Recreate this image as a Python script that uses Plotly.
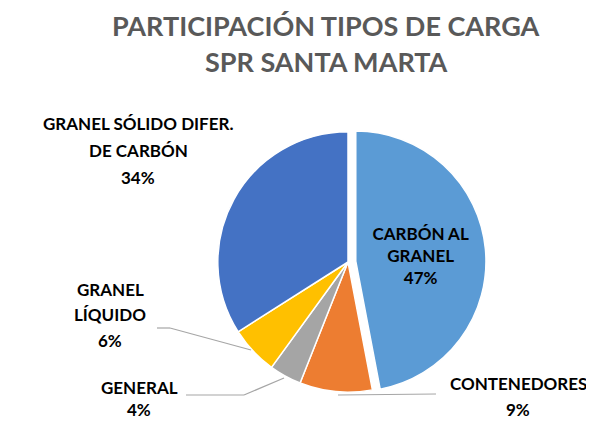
import plotly.graph_objects as go

categories = ["CARBÓN AL GRANEL", "CONTENEDORES", "GENERAL", "GRANEL LÍQUIDO", "GRANEL SÓLIDO DIFER. DE CARBÓN"]
values = [47, 9, 4, 6, 34]
colors = ["#5B9BD5", "#ED7D31", "#A5A5A5", "#FFC000", "#4472C4"]
pulls = [0.06, 0, 0, 0, 0]
title_lines = ["PARTICIPACIÓN TIPOS DE CARGA", "SPR SANTA MARTA"]

W, H = 594, 421
YOFF = 8  # text baseline correction
def px(x):
    return x / W
def py(y):
    return 1 - y / H

total = sum(values)
pct = [f"{round(v * 100 / total)}%" for v in values]

inside_text = [f"<b>CARBÓN AL</b><br><b>GRANEL</b><br><b>{pct[0]}</b>", "", "", "", ""]

fig = go.Figure(go.Pie(
    labels=categories,
    values=values,
    sort=False,
    direction="clockwise",
    rotation=0,
    pull=pulls,
    marker=dict(colors=colors, line=dict(color="#FFFFFF", width=1.5)),
    text=inside_text,
    textinfo="text",
    textposition="inside",
    insidetextorientation="horizontal",
    insidetextfont=dict(family="Lato", size=17, color="#000000"),
    hoverinfo="label+percent",
    showlegend=False,
    domain=dict(x=[px(202), px(478)], y=[py(392), py(116)]),
))

font = dict(family="Lato", size=17, color="#000000")
annotations = []
def label(lines, x, y0, step, f=font):
    for i, t in enumerate(lines):
        annotations.append(dict(text=f"<b>{t}</b>", x=px(x), y=py(y0 + i * step - YOFF), xref="paper", yref="paper",
                                xanchor="center", yanchor="middle", font=f, showarrow=False))

label(title_lines, 318, 25, 37, dict(family="Lato", size=27, color="#595959"))
label(["GRANEL SÓLIDO DIFER.", "DE CARBÓN", pct[4]], 130, 123, 27)
label(["GRANEL", "LÍQUIDO", pct[3]], 102, 289, 25.5)
label(["GENERAL", pct[2]], 131, 387, 22)
label(["CONTENEDORES", pct[1]], 510, 383, 26)

line_style = dict(color="#A6A6A6", width=1.2)
shapes = [
    dict(type="line", xref="paper", yref="paper", x0=px(330), y0=py(387), x1=px(428), y1=py(386), line=line_style),
    dict(type="line", xref="paper", yref="paper", x0=px(276), y0=py(370), x1=px(236), y1=py(387), line=line_style),
    dict(type="line", xref="paper", yref="paper", x0=px(236), y0=py(387), x1=px(178), y1=py(387), line=line_style),
    dict(type="line", xref="paper", yref="paper", x0=px(243), y0=py(342), x1=px(162), y1=py(320), line=line_style),
    dict(type="line", xref="paper", yref="paper", x0=px(162), y0=py(320), x1=px(149), y1=py(320), line=line_style),
]

fig.update_layout(
    width=W, height=H,
    margin=dict(l=0, r=0, t=0, b=0),
    paper_bgcolor="#FFFFFF",
    plot_bgcolor="#FFFFFF",
    annotations=annotations,
    shapes=shapes,
)

fig.write_html("out.html")
